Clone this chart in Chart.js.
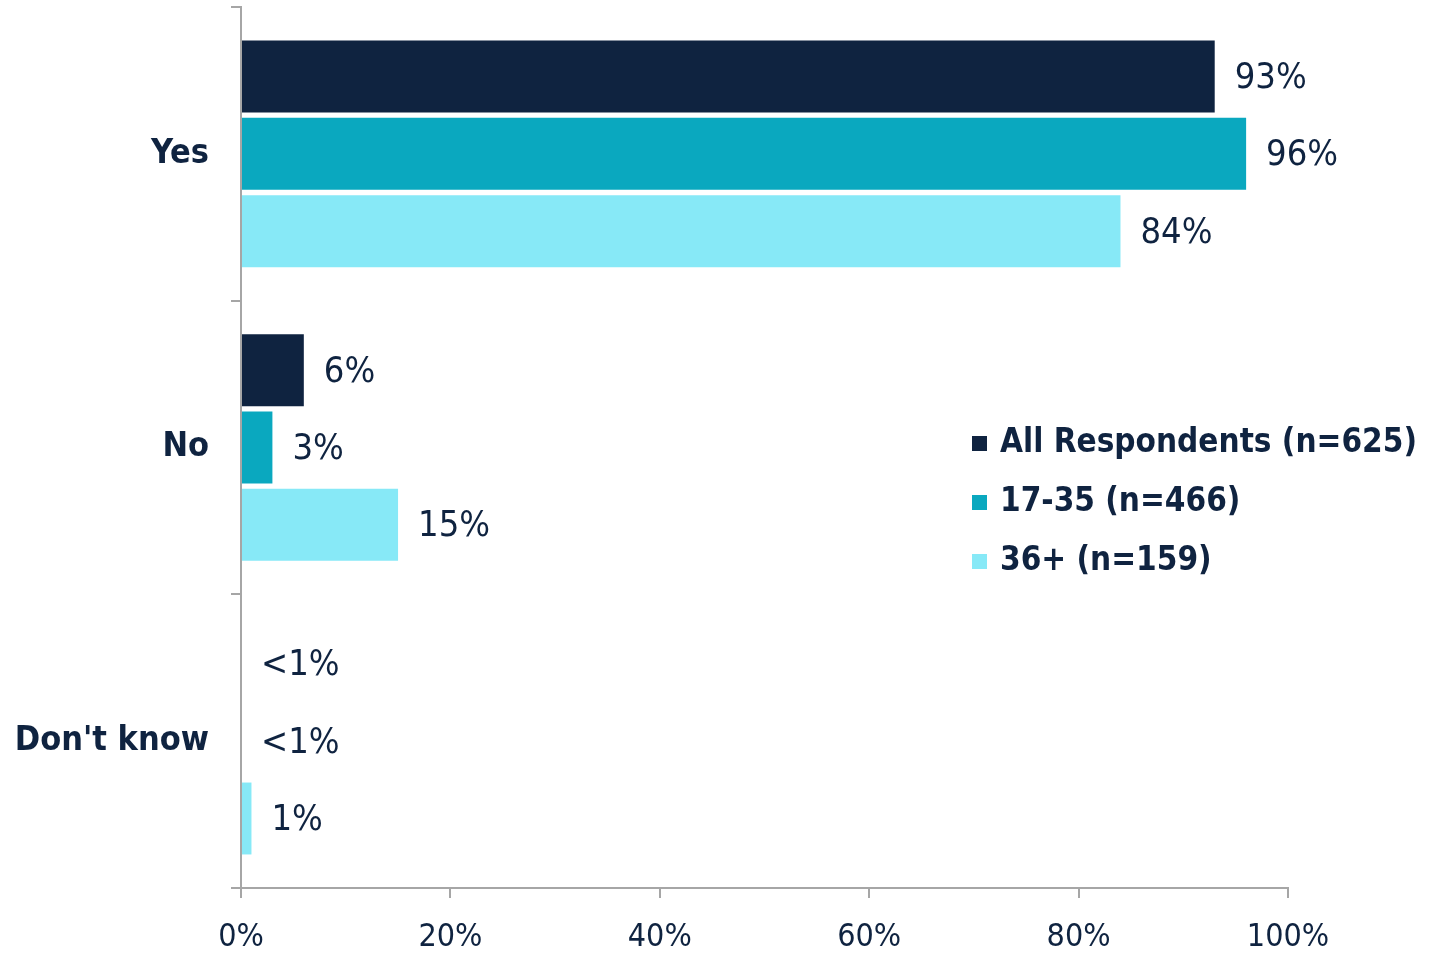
<!DOCTYPE html>
<html>
<head>
<meta charset="utf-8">
<script src="https://cdn.jsdelivr.net/npm/chart.js@4.4.1/dist/chart.umd.min.js"></script>
<style>
  html, body { margin: 0; padding: 0; background: #fff; }
  #wrap { width: 1443px; height: 955px; position: relative; }
</style>
</head>
<body>
<div id="wrap"><canvas id="chart"></canvas></div>
<script>
// survey answers, share of respondents (%)
const categories = ['Yes', 'No', "Don't know"];
const seriesNames = ['All Respondents (n=625)', '17-35 (n=466)', '36+ (n=159)'];
const allRespondents = [93, 6, 0];
const age17to35 = [96, 3, 0];
const age36plus = [84, 15, 1];
const xTicks = [0, 20, 40, 60, 80, 100];

const COLORS = ['#0f2340', '#0aa8bf', '#87e9f7'];
const TEXT = '#0f2340';
const AXIS = '#a6a6a6';
const FONT = "'DejaVu Sans Condensed', 'DejaVu Sans', sans-serif";

const fmt = v => v < 1 ? '<1%' : v + '%';

// value labels at the end of each bar
const valueLabels = {
  id: 'valueLabels',
  afterDatasetsDraw(chart) {
    const ctx = chart.ctx;
    ctx.save();
    ctx.font = `36px ${FONT}`;
    ctx.fillStyle = TEXT;
    ctx.textBaseline = 'middle';
    ctx.textAlign = 'left';
    chart.data.datasets.forEach((ds, i) => {
      chart.getDatasetMeta(i).data.forEach((bar, j) => {
        ctx.fillText(fmt(ds.data[j]), bar.x + 20, bar.y + 2);
      });
    });
    ctx.restore();
  }
};

// legend drawn inside the plot, right side
const sideLegend = {
  id: 'sideLegend',
  afterDraw(chart) {
    const ctx = chart.ctx;
    ctx.save();
    ctx.font = `bold 33px ${FONT}`;
    ctx.textBaseline = 'middle';
    chart.data.datasets.forEach((ds, i) => {
      const y = 443 + i * 59;
      ctx.fillStyle = ds.backgroundColor;
      ctx.fillRect(972, y - 7, 15, 15);
      ctx.fillStyle = TEXT;
      ctx.fillText(ds.label, 1000, y);
    });
    ctx.restore();
  }
};

new Chart(document.getElementById('chart'), {
  type: 'bar',
  data: {
    labels: categories,
    datasets: [allRespondents, age17to35, age36plus].map((d, i) => ({
      label: seriesNames[i],
      data: d,
      backgroundColor: COLORS[i],
      barPercentage: 0.93,
      categoryPercentage: 0.79
    }))
  },
  options: {
    indexAxis: 'y',
    responsive: true,
    maintainAspectRatio: false,
    animation: false,
    layout: { padding: { top: 7, right: 155, left: 0, bottom: 0 } },
    plugins: {
      legend: { display: false },
      tooltip: { enabled: false }
    },
    scales: {
      x: {
        min: 0,
        max: 100,
        afterBuildTicks: s => { s.ticks = xTicks.map(v => ({ value: v })); },
        afterFit: s => { s.height = 67; },
        grid: { drawOnChartArea: false, drawTicks: true, tickLength: 10, color: AXIS, lineWidth: 2 },
        border: { display: true, color: AXIS, width: 2 },
        ticks: {
          callback: v => v + '%',
          color: TEXT,
          font: { family: FONT, size: 32 },
          padding: 20,
          maxRotation: 0
        }
      },
      y: {
        afterFit: s => { s.width = 241; s.paddingTop = 0; s.paddingBottom = 0; },
        grid: { drawOnChartArea: false, drawTicks: true, tickLength: 10, color: AXIS, lineWidth: 2, offset: true },
        border: { display: true, color: AXIS, width: 2 },
        ticks: {
          color: TEXT,
          font: { family: FONT, size: 34, weight: 'bold' },
          padding: 22
        }
      }
    }
  },
  plugins: [valueLabels, sideLegend]
});
</script>
</body>
</html>
